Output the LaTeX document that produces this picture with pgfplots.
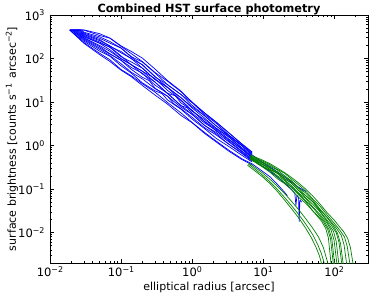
\documentclass[border=0pt]{standalone}
\usepackage{fontspec}
\setmainfont{DejaVu Sans}
\usepackage{pgfplots}
\pgfplotsset{compat=1.18}
\newcommand{\sups}[1]{\raisebox{0.4em}{\fontsize{7.9}{8}\selectfont #1}}
\newcommand{\tpow}[1]{10\sups{#1}}
\definecolor{mblue}{rgb}{0,0,1}
\definecolor{mgreen}{rgb}{0,0.5,0}
\begin{document}
\begin{tikzpicture}
\begin{axis}[
  scale only axis, width=318pt, height=248pt,
  xmode=log, ymode=log,
  xmin=0.01, xmax=300, ymin=0.002, ymax=1000,
  xtick={0.01,0.1,1,10,100},
  xticklabels={\tpow{−2},\tpow{−1},\tpow{0},\tpow{1},\tpow{2}},
  ytick={0.01,0.1,1,10,100,1000},
  yticklabels={\tpow{−2},\tpow{−1},\tpow{0},\tpow{1},\tpow{2},\tpow{3}},
  minor xtick={0.02,0.03,0.04,0.05,0.06,0.07,0.08,0.09,0.2,0.3,0.4,0.5,0.6,0.7,0.8,0.9,2,3,4,5,6,7,8,9,20,30,40,50,60,70,80,90,200},
  minor ytick={0.003,0.004,0.005,0.006,0.007,0.008,0.009,0.02,0.03,0.04,0.05,0.06,0.07,0.08,0.09,0.2,0.3,0.4,0.5,0.6,0.7,0.8,0.9,2,3,4,5,6,7,8,9,20,30,40,50,60,70,80,90,200,300,400,500,600,700,800,900},
  tick align=inside, xtick pos=both, ytick pos=both,
  major tick length=4.5pt, minor tick length=2.2pt,
  tick style={black, line width=0.6pt},
  axis line style={line width=0.8pt},
  tick label style={font=\fontsize{11.5}{13}\selectfont},
  yticklabel style={xshift=-2pt},
  label style={font=\fontsize{11}{13}\selectfont},
  title={Combined HST surface photometry},
  title style={font=\bfseries\fontsize{11.3}{13}\selectfont, at={(axis description cs:0.5,1.012)}, anchor=base, yshift=-6pt},
  xlabel={elliptical radius [arcsec]},
  xlabel style={at={(axis description cs:0.5,-0.0968)}, anchor=center},
  ylabel={surface brightness [counts s\sups{−1}\hspace{0.45em}arcsec\sups{−2}]},
  ylabel style={at={(axis description cs:-0.1195,0.5)}, anchor=center},
  every axis plot/.append style={line width=0.7pt, line join=round, mark=none},
]
\coordinate (sw) at (rel axis cs:0,0);
\coordinate (ne) at (rel axis cs:1,1);
% blue profiles
\addplot[mblue] coordinates {(0.019,450) (0.03,224) (0.05,123) (0.07,85) (0.1,54) (0.14,38) (0.2,24) (0.3,14.5) (0.45,9.0) (0.7,4.9) (1,3.35) (1.5,1.9) (2.2,1.2) (3.3,0.74) (5,0.48) (7,0.36)};
\addplot[mblue] coordinates {(0.019,450) (0.03,234) (0.05,132) (0.07,93) (0.1,56) (0.14,40) (0.2,26.3) (0.3,17.0) (0.45,9.8) (0.7,5.6) (1,3.4) (1.5,2.0) (2.2,1.26) (3.3,0.78) (5,0.5) (7,0.38) (10,0.25) (12.6,0.19) (15.8,0.13) (20,0.085) (22,0.07)};
\addplot[mblue] coordinates {(0.019,450) (0.03,251) (0.05,148) (0.07,112) (0.1,68) (0.14,46) (0.2,27.5) (0.3,18.2) (0.38,15.5) (0.45,11.2) (0.7,6.8) (1,4.07) (1.5,2.45) (2.2,1.45) (3.3,0.95) (5,0.6) (7,0.42)};
\addplot[mblue] coordinates {(0.02,450) (0.03,266) (0.05,162) (0.07,116) (0.1,76) (0.14,48) (0.2,34) (0.3,20.4) (0.45,13.8) (0.55,9.2) (0.7,7.0) (1,4.47) (1.5,2.57) (2.2,1.74) (3.3,1.07) (5,0.66) (7,0.44)};
\addplot[mblue] coordinates {(0.02,450) (0.03,279) (0.05,174) (0.07,126) (0.1,91) (0.14,56) (0.2,37) (0.25,31) (0.3,20.9) (0.45,13.6) (0.7,7.6) (1,5.2) (1.5,2.9) (2.2,1.85) (3.3,1.07) (5,0.69) (7,0.46)};
\addplot[mblue] coordinates {(0.021,450) (0.03,292) (0.05,188) (0.07,128) (0.1,91) (0.14,62) (0.2,46) (0.3,24.5) (0.45,16.0) (0.7,8.3) (1,5.25) (1.5,2.91) (2.2,1.98) (3.3,1.21) (5,0.73) (7,0.48) (10,0.33) (12.6,0.25) (15.8,0.19) (20,0.138) (25,0.1) (28,0.079) (29,0.042) (30,0.072) (31.6,0.063) (32.2,0.018) (33,0.056) (35,0.05)};
\addplot[mblue] coordinates {(0.021,450) (0.03,302) (0.05,199) (0.07,146) (0.1,98) (0.14,72) (0.2,44) (0.3,28.8) (0.45,15.8) (0.7,8.2) (0.85,7.4) (1,5.57) (1.5,3.3) (2.2,2.24) (3.3,1.27) (5,0.755) (7,0.50)};
\addplot[mblue] coordinates {(0.022,450) (0.03,316) (0.05,224) (0.07,158) (0.1,100) (0.14,72) (0.2,51) (0.3,28.8) (0.45,15.8) (0.58,14.0) (0.7,9.5) (1,6.46) (1.5,3.55) (2.2,2.14) (3.3,1.35) (5,0.83) (7,0.525)};
\addplot[mblue] coordinates {(0.023,450) (0.03,327) (0.05,226) (0.07,185) (0.1,115) (0.14,71) (0.2,51) (0.3,34.7) (0.45,18.6) (0.7,11.1) (1,6.4) (1.5,3.58) (2.2,2.36) (3.3,1.41) (5,0.83) (7,0.54)};
\addplot[mblue] coordinates {(0.024,450) (0.03,339) (0.05,239) (0.07,179) (0.1,110) (0.14,83) (0.2,60) (0.3,33) (0.45,22.2) (0.7,10.8) (1,6.18) (1.5,3.96) (2.2,2.48) (3.3,1.58) (5,0.857) (7,0.56)};
\addplot[mblue] coordinates {(0.025,450) (0.03,355) (0.05,257) (0.07,195) (0.1,135) (0.14,100) (0.2,60) (0.3,33) (0.45,21.6) (0.7,12.6) (1,7.33) (1.5,4.27) (2.2,2.48) (3.3,1.57) (5,0.90) (7,0.59)};
\addplot[mblue] coordinates {(0.019,450) (0.026,450) (0.03,367) (0.05,272) (0.07,189) (0.1,145) (0.14,98) (0.2,72) (0.3,38.9) (0.45,21.6) (0.7,12.5) (1,7.76) (1.5,4.83) (2.2,2.81) (3.3,1.64) (5,1.0) (7,0.61) (10,0.40) (12.6,0.32) (15.8,0.25) (20,0.19) (25,0.145) (31.6,0.11) (40,0.088)};
\addplot[mblue] coordinates {(0.019,450) (0.027,450) (0.03,385) (0.05,292) (0.07,225) (0.1,174) (0.14,107) (0.2,71) (0.3,38) (0.45,25.1) (0.7,14.9) (1,8.41) (1.5,4.85) (2.2,2.81) (3.3,1.74) (5,0.99) (7,0.64)};
\addplot[mblue] coordinates {(0.019,450) (0.028,450) (0.03,403) (0.05,315) (0.07,245) (0.1,174) (0.14,110) (0.2,83) (0.3,46.8) (0.45,25.1) (0.7,14.8) (1,9.7) (1.5,5.22) (2.2,3.22) (3.3,1.73) (5,1.04) (7,0.67)};
\addplot[mblue] coordinates {(0.019,450) (0.03,450) (0.05,339) (0.07,292) (0.1,190) (0.14,129) (0.2,85) (0.3,47.9) (0.45,30.1) (0.7,17.2) (1,9.84) (1.5,5.62) (2.2,3.45) (3.3,1.96) (5,1.09) (7,0.70)};
\addplot[mblue] coordinates {(0.019,450) (0.031,450) (0.05,372) (0.07,295) (0.1,195) (0.14,145) (0.2,102) (0.3,57.5) (0.45,31.3) (0.7,17.8) (1,10.0) (1.5,5.62) (2.2,3.39) (3.3,1.95) (5,1.10) (7,0.71)};
% green profiles
\addplot[mgreen] coordinates {(6.6,0.617) (7.9,0.537) (10,0.457) (12.6,0.380) (15.8,0.305) (20,0.240) (25.1,0.185) (31.6,0.138) (39.8,0.100) (50.1,0.0692) (63.1,0.0457) (79.4,0.0288) (100,0.0195) (117,0.0141) (135,0.0107) (155,0.00741) (170,0.00447) (186,0.00178)};
\addplot[mgreen] coordinates {(6.8,0.596) (7.9,0.516) (10,0.435) (12.6,0.357) (15.8,0.284) (20,0.232) (25.1,0.169) (31.6,0.125) (39.8,0.0902) (50.1,0.0589) (63.1,0.0407) (79.4,0.0257) (100,0.0166) (122,0.011) (140,0.00794) (153,0.00479) (168,0.00178)};
\addplot[mgreen] coordinates {(6.6,0.575) (7.9,0.495) (10,0.412) (12.6,0.335) (15.8,0.275) (20,0.204) (25.1,0.154) (31.6,0.107) (39.8,0.0813) (50.1,0.0556) (63.1,0.0347) (79.4,0.0229) (100,0.0148) (110,0.0120) (126,0.0087) (138,0.00525) (151,0.00178)};
\addplot[mgreen] coordinates {(6.5,0.560) (7.9,0.480) (10,0.395) (12.6,0.302) (15.8,0.249) (20,0.191) (25.1,0.151) (31.6,0.105) (39.8,0.0708) (50.1,0.0509) (63.1,0.0331) (79.4,0.0224) (98,0.0141) (112,0.00955) (123,0.00562) (135,0.00178)};
\addplot[mgreen] coordinates {(6.6,0.548) (7.9,0.469) (10,0.363) (12.6,0.307) (15.8,0.239) (20,0.174) (25.1,0.136) (31.6,0.0933) (39.8,0.0703) (50.1,0.0513) (63.1,0.0309) (79.4,0.0195) (93,0.0141) (107,0.01) (117,0.00603) (129,0.00178)};
\addplot[mgreen] coordinates {(6.7,0.537) (7.9,0.457) (10,0.372) (12.6,0.282) (15.8,0.229) (20,0.174) (25.1,0.138) (31.6,0.0933) (39.8,0.0631) (50.1,0.0447) (63.1,0.0302) (79.4,0.0182) (85,0.0151) (98,0.0107) (107,0.00631) (117,0.00178)};
\addplot[mgreen] coordinates {(6.6,0.522) (7.9,0.443) (10,0.356) (12.6,0.281) (15.8,0.234) (20,0.163) (25.1,0.12) (31.6,0.0813) (39.8,0.0608) (50.1,0.0389) (63.1,0.0263) (79.4,0.0166) (91,0.0112) (100,0.0066) (110,0.00178)};
\addplot[mgreen] coordinates {(6.6,0.508) (7.9,0.429) (10,0.324) (12.6,0.267) (15.8,0.204) (20,0.158) (25.1,0.112) (31.6,0.0798) (39.8,0.0537) (50.1,0.0375) (63.1,0.024) (74,0.0174) (85,0.0117) (93,0.00708) (102,0.00178)};
\addplot[mgreen] coordinates {(6.5,0.494) (7.9,0.415) (10,0.328) (12.6,0.269) (15.8,0.193) (20,0.143) (25.1,0.11) (31.6,0.0738) (39.8,0.0515) (50.1,0.0316) (63.1,0.0219) (71,0.0174) (81,0.012) (89,0.00724) (98,0.00178)};
\addplot[mgreen] coordinates {(6.6,0.481) (7.9,0.402) (10,0.315) (12.6,0.241) (15.8,0.174) (20,0.134) (25.1,0.0966) (31.6,0.0646) (39.8,0.0474) (50.1,0.0315) (66,0.0186) (76,0.0126) (83,0.00759) (91,0.00178)};
\addplot[mgreen] coordinates {(6.03,0.355) (7.94,0.251) (10,0.186) (12.6,0.132) (15.8,0.0891) (20,0.0562) (25.1,0.0355) (31.6,0.0219) (39.8,0.0126) (47.9,0.00759) (55,0.00479) (61.7,0.00302) (67.6,0.00178)};
\addplot[mgreen] coordinates {(6.17,0.380) (7.94,0.275) (10,0.204) (12.6,0.145) (15.8,0.1) (20,0.0646) (25.1,0.0417) (31.6,0.0263) (39.8,0.0158) (50.1,0.00891) (58.9,0.00525) (66.1,0.00331) (74.1,0.00178)};
\addplot[mgreen] coordinates {(6.31,0.398) (7.94,0.302) (10,0.229) (12.6,0.166) (15.8,0.117) (20,0.0794) (25.1,0.0525) (31.6,0.0339) (39.8,0.0209) (50.1,0.0126) (60.3,0.00794) (70.8,0.00447) (83.2,0.00178)};
\end{axis}
\pgfresetboundingbox
\path[use as bounding box] ([shift={(-50pt,-36pt)}]sw) rectangle ([shift={(6pt,15pt)}]ne);
\end{tikzpicture}
\end{document}
